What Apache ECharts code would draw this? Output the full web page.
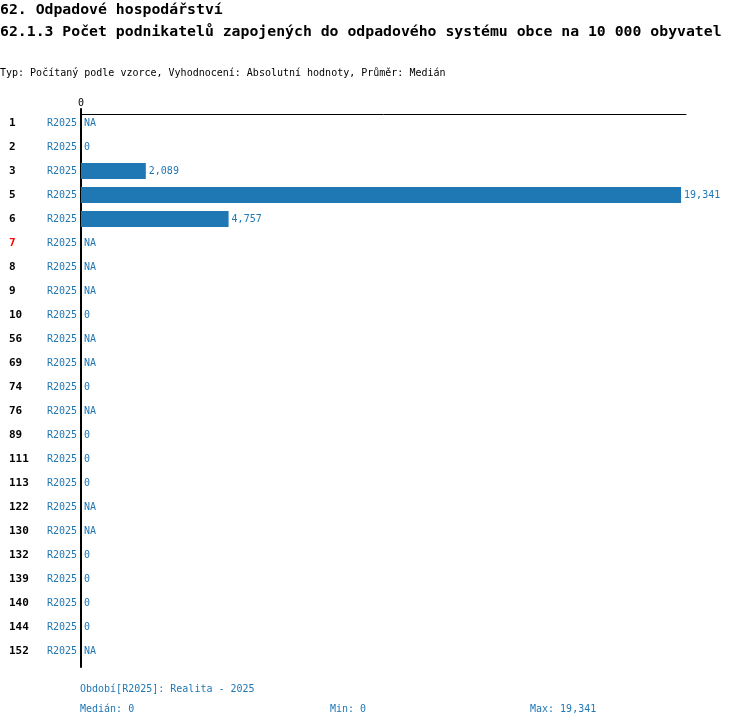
<!DOCTYPE html>
<html>
<head>
<meta charset="utf-8">
<script src="https://cdn.jsdelivr.net/npm/echarts@6/dist/echarts.min.js"></script>
<style>
  html, body { margin: 0; padding: 0; background: #fff; }
  #chart { width: 750px; height: 726px; }
</style>
</head>
<body>
<div id="chart"></div>
<script>
// obce (kategorie) a hodnoty, null = NA
var obce = ['1', '2', '3', '5', '6', '7', '8', '9', '10', '56', '69', '74', '76', '89', '111', '113', '122', '130', '132', '139', '140', '144', '152'];
var obdobi = ['R2025', 'R2025', 'R2025', 'R2025', 'R2025', 'R2025', 'R2025', 'R2025', 'R2025', 'R2025', 'R2025', 'R2025',
              'R2025', 'R2025', 'R2025', 'R2025', 'R2025', 'R2025', 'R2025', 'R2025', 'R2025', 'R2025', 'R2025'];
var hodnoty = [null, 0, 2089, 19341, 4757, null, null, null, 0, null, null, 0, null, 0, 0, 0, null, null, 0, 0, 0, 0, null];
var zvyraznene = ['7'];
var osaTicks = [0];

var mono = 'DejaVu Sans Mono';
var modra = '#1f77b4';

function fmt(v) {
    return v.toLocaleString('en-US');
}

var cisla = hodnoty.filter(function (v) { return v !== null; }).slice().sort(function (a, b) { return a - b; });
var median = cisla.length % 2 ? cisla[(cisla.length - 1) / 2] : (cisla[cisla.length / 2 - 1] + cisla[cisla.length / 2]) / 2;
var minimum = cisla[0];
var maximum = cisla[cisla.length - 1];

function txt(text, left, top, size, bold, color) {
    return {
        text: text, left: left, top: top, padding: 0,
        textStyle: {fontFamily: mono, fontSize: size, fontWeight: bold ? 'bold' : 'normal', color: color}
    };
}

var chart = echarts.init(document.getElementById('chart'));
chart.setOption({
    animation: false,
    title: [
        txt('62. Odpadové hospodářství', 0, 3, 14.8, true, '#000'),
        txt('62.1.3 Počet podnikatelů zapojených do odpadového systému obce na 10 000 obyvatel', 0, 25, 14.8, true, '#000'),
        txt('Typ: Počítaný podle vzorce, Vyhodnocení: Absolutní hodnoty, Průměr: Medián', 0, 68, 10, false, '#000'),
        txt('Období[R2025]: Realita - 2025', 80, 684, 10, false, modra),
        txt('Medián: ' + fmt(median), 80, 704, 10, false, modra),
        txt('Min: ' + fmt(minimum), 330, 704, 10, false, modra),
        txt('Max: ' + fmt(maximum), 530, 704, 10, false, modra)
    ],
    grid: [
        {left: 81, top: 111, height: 552, right: 64},
        {left: 81, top: 109, height: 558, width: 1}
    ],
    xAxis: [
        {
            gridIndex: 0, type: 'value', position: 'top', offset: -3,
            min: 0, max: 19500, interval: 19500,
            axisLine: {show: true, lineStyle: {color: '#000', width: 1}},
            axisTick: {show: false},
            splitLine: {show: false},
            axisLabel: {
                margin: 6, color: '#000', fontFamily: mono, fontSize: 10,
                formatter: function (v) { return osaTicks.indexOf(v) >= 0 ? String(v) : ''; }
            }
        },
        {gridIndex: 1, type: 'value', show: false, min: 0, max: 1}
    ],
    yAxis: [
        {
            gridIndex: 0, type: 'category', data: obce, inverse: true,
            axisLine: {show: false},
            axisTick: {show: false},
            axisLabel: {
                margin: 4,
                formatter: function (v, i) {
                    var tag = zvyraznene.indexOf(v) >= 0 ? 'h' : 'n';
                    return '{' + tag + '|' + v + '}{r|' + obdobi[i] + '}';
                },
                rich: {
                    n: {width: 38, align: 'left', fontFamily: mono, fontSize: 11, fontWeight: 'bold', color: '#000'},
                    h: {width: 38, align: 'left', fontFamily: mono, fontSize: 11, fontWeight: 'bold', color: '#ff0000'},
                    r: {fontFamily: mono, fontSize: 10, color: modra}
                }
            }
        },
        {
            gridIndex: 1, type: 'value', min: 0, max: 1,
            axisLine: {show: true, lineStyle: {color: '#000', width: 2}},
            axisTick: {show: false}, axisLabel: {show: false}, splitLine: {show: false}
        }
    ],
    series: [{
        type: 'bar',
        xAxisIndex: 0, yAxisIndex: 0,
        barWidth: 16,
        itemStyle: {color: modra},
        data: hodnoty.map(function (v) { return v === null ? 0 : v; }),
        label: {
            show: true, position: 'right', distance: 3,
            fontFamily: mono, fontSize: 10, color: modra,
            formatter: function (p) {
                var v = hodnoty[p.dataIndex];
                return v === null ? 'NA' : fmt(v);
            }
        }
    }]
});
</script>
</body>
</html>
